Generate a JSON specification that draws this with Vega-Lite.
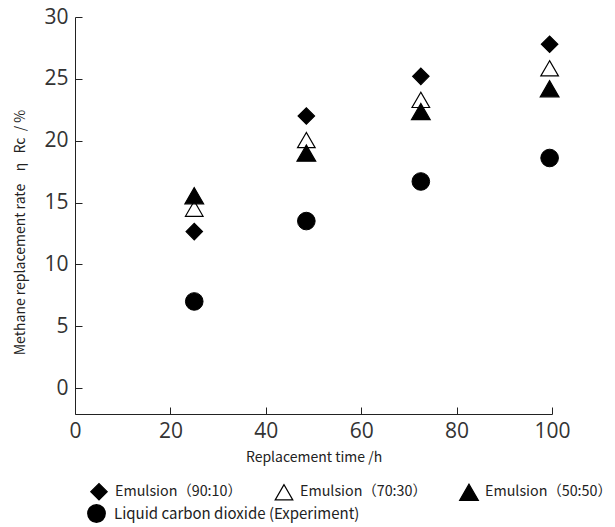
{
  "$schema": "https://vega.github.io/schema/vega-lite/v6.json",
  "width": 477,
  "height": 397,
  "autosize": "none",
  "padding": {"left": 75, "top": 17, "right": 63, "bottom": 113},
  "background": "white",
  "config": {"view": {"stroke": null}, "font": "Noto Sans CJK SC"},
  "data": {"values": [
    {"series": "Emulsion（90:10）", "time": 25, "rate": 12.65},
    {"series": "Emulsion（90:10）", "time": 48.5, "rate": 22.0},
    {"series": "Emulsion（90:10）", "time": 72.5, "rate": 25.2},
    {"series": "Emulsion（90:10）", "time": 99.5, "rate": 27.8},
    {"series": "Emulsion（70:30）", "time": 25, "rate": 14.5},
    {"series": "Emulsion（70:30）", "time": 48.5, "rate": 20.05},
    {"series": "Emulsion（70:30）", "time": 72.5, "rate": 23.3},
    {"series": "Emulsion（70:30）", "time": 99.5, "rate": 25.85},
    {"series": "Emulsion（50:50）", "time": 25, "rate": 15.55},
    {"series": "Emulsion（50:50）", "time": 48.5, "rate": 19.0},
    {"series": "Emulsion（50:50）", "time": 72.5, "rate": 22.35},
    {"series": "Emulsion（50:50）", "time": 99.5, "rate": 24.2},
    {"series": "Liquid carbon dioxide (Experiment)", "time": 25, "rate": 7.0},
    {"series": "Liquid carbon dioxide (Experiment)", "time": 48.5, "rate": 13.5},
    {"series": "Liquid carbon dioxide (Experiment)", "time": 72.5, "rate": 16.7},
    {"series": "Liquid carbon dioxide (Experiment)", "time": 99.5, "rate": 18.6}
  ]},
  "encoding": {
    "x": {
      "field": "time", "type": "quantitative",
      "scale": {"domain": [0, 100], "nice": false, "zero": false},
      "axis": {
        "values": [0, 20, 40, 60, 80, 100],
        "grid": false,
        "tickSize": -7,
        "tickColor": "#222",
        "domainColor": "#222",
        "labelFontSize": 21,
        "labelColor": "#333",
        "labelPadding": 13,
        "labelFlush": false,
        "labelFont": "Open Sans",
        "title": "Replacement time /h",
        "titleFontSize": 14,
        "titleFontWeight": "normal",
        "titleColor": "#222",
        "titleY": 36
      }
    },
    "y": {
      "field": "rate", "type": "quantitative",
      "scale": {"domain": [-2.1, 30], "nice": false, "zero": false},
      "axis": {
        "values": [0, 5, 10, 15, 20, 25, 30],
        "grid": false,
        "tickSize": -7,
        "tickColor": "#222",
        "domainColor": "#222",
        "labelFontSize": 21,
        "labelColor": "#333",
        "labelPadding": 14,
        "labelFlush": false,
        "labelFont": "Open Sans",
        "title": "Methane replacement rate\u00a0\u00a0\u00a0\u00a0η\u00a0\u00a0\u00a0Rc\u00a0\u00a0/\u00a0%",
        "titleFontSize": 14,
        "titleFontWeight": "normal",
        "titleColor": "#222",
        "titleX": -48,
        "titleY": 215
      }
    }
  },
  "layer": [
    {
      "transform": [{"filter": "datum.series !== 'Liquid carbon dioxide (Experiment)'"}],
      "mark": {"type": "point", "filled": true, "stroke": "black", "strokeWidth": 1.2, "opacity": 1},
      "encoding": {
        "shape": {
          "field": "series", "type": "nominal",
          "scale": {
            "domain": ["Emulsion（90:10）", "Emulsion（70:30）", "Emulsion（50:50）"],
            "range": ["diamond", "triangle-up", "triangle-up"]
          },
          "legend": {
            "orient": "none",
            "legendX": 14,
            "legendY": 465,
            "direction": "horizontal",
            "columns": 3,
            "title": null,
            "labelFontSize": 14.3,
            "labelColor": "#222",
            "labelLimit": 400,
            "labelOffset": 6,
            "symbolStrokeColor": "black",
            "symbolStrokeWidth": 1.2,
            "columnPadding": 30
          }
        },
        "fill": {
          "field": "series", "type": "nominal",
          "scale": {
            "domain": ["Emulsion（90:10）", "Emulsion（70:30）", "Emulsion（50:50）"],
            "range": ["black", "white", "black"]
          }
        },
        "size": {
          "field": "series", "type": "nominal",
          "scale": {
            "domain": ["Emulsion（90:10）", "Emulsion（70:30）", "Emulsion（50:50）"],
            "range": [270, 350, 350]
          }
        }
      }
    },
    {
      "transform": [{"filter": "datum.series === 'Liquid carbon dioxide (Experiment)'"}],
      "mark": {"type": "point", "filled": true, "shape": "circle", "size": 310, "stroke": "black", "strokeWidth": 1, "opacity": 1},
      "encoding": {
        "color": {
          "field": "series", "type": "nominal",
          "scale": {"domain": ["Liquid carbon dioxide (Experiment)"], "range": ["black"]},
          "legend": {
            "orient": "none",
            "legendX": 12,
            "legendY": 487,
            "title": null,
            "labelFontSize": 15,
            "labelColor": "#222",
            "labelLimit": 400,
            "labelOffset": 8,
            "symbolType": "circle",
            "symbolSize": 300,
            "symbolStrokeColor": "black",
            "symbolFillColor": "black"
          }
        }
      }
    }
  ]
}
